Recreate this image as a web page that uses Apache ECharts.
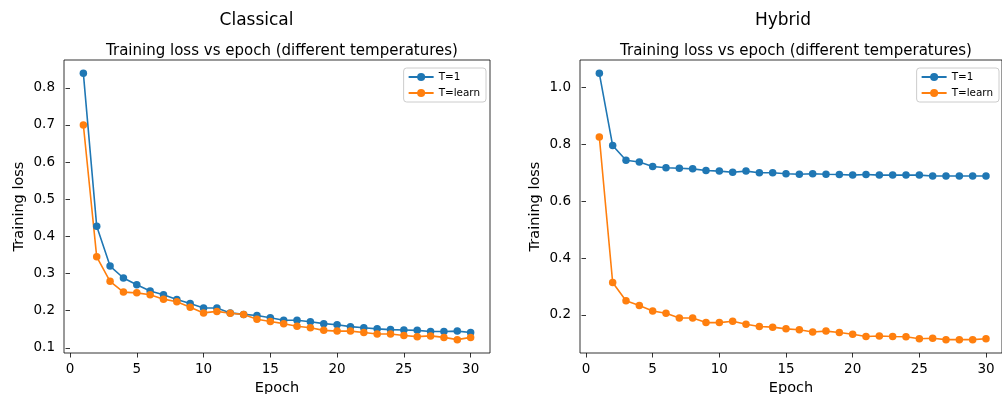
<!DOCTYPE html>
<html>
<head>
<meta charset="utf-8">
<script src="https://cdn.jsdelivr.net/npm/echarts@6/dist/echarts.min.js"></script>
<style>html,body{margin:0;padding:0;background:#fff}#c{width:1002px;height:394px}</style>
</head>
<body>
<div id="c"></div>
<script>
const epochs = Array.from({length: 30}, (_, i) => i + 1);
const classicalT1 = [0.839,0.427,0.320,0.288,0.270,0.253,0.243,0.230,0.219,0.207,0.207,0.194,0.190,0.187,0.181,0.174,0.174,0.170,0.165,0.162,0.157,0.154,0.151,0.149,0.148,0.147,0.144,0.144,0.145,0.141];
const classicalLearn = [0.700,0.345,0.279,0.250,0.248,0.243,0.231,0.224,0.209,0.194,0.198,0.193,0.190,0.177,0.171,0.165,0.158,0.154,0.147,0.145,0.145,0.141,0.137,0.137,0.133,0.130,0.132,0.128,0.122,0.128];
const hybridT1 = [1.050,0.796,0.744,0.738,0.722,0.718,0.716,0.714,0.708,0.706,0.702,0.706,0.700,0.700,0.697,0.695,0.697,0.695,0.694,0.692,0.694,0.692,0.692,0.692,0.692,0.689,0.689,0.689,0.689,0.689];
const hybridLearn = [0.826,0.314,0.250,0.233,0.214,0.206,0.189,0.189,0.173,0.173,0.178,0.167,0.159,0.157,0.151,0.148,0.140,0.143,0.138,0.132,0.124,0.126,0.124,0.123,0.116,0.118,0.113,0.113,0.113,0.116];
const xTicks = [0,5,10,15,20,25,30];
const classicalYTicks = [0.1,0.2,0.3,0.4,0.5,0.6,0.7,0.8];
const hybridYTicks = [0.2,0.4,0.6,0.8,1.0];
const seriesNames = ['T=1','T=learn'];
const suptitles = ['Classical','Hybrid'];
const subtitle = 'Training loss vs epoch (different temperatures)';

const FONT = 'DejaVu Sans';
const C1 = '#1f77b4', C2 = '#ff7f0e';
const pairs = arr => epochs.map((e, i) => [e, arr[i]]);

function xAxis(gi, max) {
  return {
    type: 'value', gridIndex: gi, min: -0.45, max: max,
    name: 'Epoch', nameLocation: 'middle', nameGap: 24,
    nameTextStyle: {fontFamily: FONT, fontSize: 14.5, color: '#000'},
    axisLine: {show: false},
    splitLine: {show: false},
    axisTick: {show: true, length: 4.5, inside: false, customValues: xTicks, lineStyle: {color: '#000', width: 0.8}},
    axisLabel: {customValues: xTicks, margin: 9, fontFamily: FONT, fontSize: 13.5, color: '#000', formatter: v => String(v)}
  };
}
function yAxis(gi, min, max, ticks) {
  return {
    type: 'value', gridIndex: gi, min: min, max: max,
    name: 'Training loss', nameLocation: 'middle', nameGap: 37, nameRotate: 90,
    nameTextStyle: {fontFamily: FONT, fontSize: 14.5, color: '#000'},
    axisLine: {show: false},
    splitLine: {show: false},
    axisTick: {show: true, length: 4.5, inside: false, customValues: ticks, lineStyle: {color: '#000', width: 0.8}},
    axisLabel: {customValues: ticks, margin: 9, fontFamily: FONT, fontSize: 13.5, color: '#000', formatter: v => v.toFixed(1)}
  };
}
function line(name, data, color, gi) {
  return {
    type: 'line', name: name, xAxisIndex: gi, yAxisIndex: gi, data: pairs(data),
    symbol: 'circle', symbolSize: 7.5, showSymbol: true,
    lineStyle: {color: color, width: 1.6}, itemStyle: {color: color},
    emphasis: {disabled: true}, z: 2
  };
}
function legend(right) {
  return {
    data: seriesNames, orient: 'vertical', right: right, top: 68,
    itemWidth: 25, itemHeight: 10, itemGap: 6,
    padding: [4, 6, 4, 4],
    backgroundColor: 'rgba(255,255,255,0.8)', borderColor: '#cccccc', borderWidth: 1, borderRadius: 3,
    textStyle: {fontFamily: FONT, fontSize: 10.4, color: '#000'},
    selectedMode: false
  };
}

const chart = echarts.init(document.getElementById('c'), null, {renderer: 'canvas'});
chart.setOption({
  animation: false,
  backgroundColor: '#fff',
  title: [
    {text: suptitles[0], left: 251.5, top: 7, textAlign: 'center', textStyle: {fontFamily: FONT, fontSize: 17, fontWeight: 'normal', color: '#000'}},
    {text: suptitles[1], left: 778, top: 7, textAlign: 'center', textStyle: {fontFamily: FONT, fontSize: 17, fontWeight: 'normal', color: '#000'}},
    {text: subtitle, left: 277, top: 39, textAlign: 'center', textStyle: {fontFamily: FONT, fontSize: 15, fontWeight: 'normal', color: '#000'}},
    {text: subtitle, left: 791, top: 39, textAlign: 'center', textStyle: {fontFamily: FONT, fontSize: 15, fontWeight: 'normal', color: '#000'}}
  ],
  grid: [
    {left: 64, top: 60, width: 426, height: 293, show: true, borderColor: '#000', borderWidth: 0.8, backgroundColor: 'transparent', containLabel: false, outerBoundsMode: 'none'},
    {left: 580, top: 60, width: 422, height: 293, show: true, borderColor: '#000', borderWidth: 0.8, backgroundColor: 'transparent', containLabel: false, outerBoundsMode: 'none'}
  ],
  xAxis: [xAxis(0, 31.45), xAxis(1, 31.2)],
  yAxis: [yAxis(0, 0.086, 0.875, classicalYTicks), yAxis(1, 0.066, 1.097, hybridYTicks)],
  legend: [legend(1002 - 486), legend(3)],
  series: [
    line(seriesNames[0], classicalT1, C1, 0),
    line(seriesNames[1], classicalLearn, C2, 0),
    line(seriesNames[0], hybridT1, C1, 1),
    line(seriesNames[1], hybridLearn, C2, 1)
  ]
});
</script>
</body>
</html>
